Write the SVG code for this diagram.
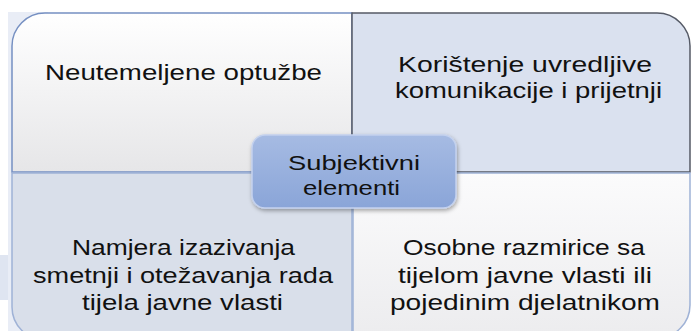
<svg xmlns="http://www.w3.org/2000/svg" width="692" height="331" viewBox="0 0 692 331">
<defs>
<linearGradient id="gWhite" x1="0" y1="0" x2="0" y2="1"><stop offset="0" stop-color="#ffffff"/><stop offset="1" stop-color="#e6e6e8"/></linearGradient>
<linearGradient id="gWhite2" x1="0" y1="0" x2="0" y2="1"><stop offset="0" stop-color="#fbfbfc"/><stop offset="1" stop-color="#ececee"/></linearGradient>
<linearGradient id="gCenter" x1="0" y1="0" x2="0" y2="1"><stop offset="0" stop-color="#a6bbe3"/><stop offset="1" stop-color="#8aa5d8"/></linearGradient>
<filter id="sh" x="-10%" y="-10%" width="120%" height="130%"><feDropShadow dx="1" dy="2" stdDeviation="2" flood-color="#000" flood-opacity="0.35"/></filter>
</defs>
<style>
.t{font-family:"Liberation Sans","Open Sans","DejaVu Sans",sans-serif;font-size:22px;fill:#111;text-anchor:middle}
.c{font-size:21px}
.q{stroke-width:1.5}
</style>
<rect x="0" y="0" width="692" height="331" fill="#ffffff"/>
<rect x="8" y="12" width="40" height="319" fill="#e9edf6"/>
<rect x="0" y="255" width="8" height="45" fill="#dfe5f1"/>
<g id="node-tl">
<path class="q" d="M12,172 V46 A33,33 0 0 1 45,13 H352 V172 Z" fill="url(#gWhite)" stroke="#7690c2"/>
<text class="t" x="183.5" y="80" textLength="277" lengthAdjust="spacingAndGlyphs">Neutemeljene optužbe</text>
</g>
<g id="node-tr">
<path class="q" d="M352,13 H657 A33,33 0 0 1 690,46 V172 H352 Z" fill="#dae1ef" stroke="#555a66"/>
<text class="t" x="525" y="72" textLength="254" lengthAdjust="spacingAndGlyphs">Korištenje uvredljive</text>
<text class="t" x="528.5" y="98" textLength="267" lengthAdjust="spacingAndGlyphs">komunikacije i prijetnji</text>
</g>
<g id="node-bl">
<path class="q" d="M12,173 H352 V340 H45 A33,33 0 0 1 12,307 Z" fill="#d9dfea" stroke="#9fb2d6"/>
<text class="t" x="183.5" y="255" textLength="223" lengthAdjust="spacingAndGlyphs">Namjera izazivanja</text>
<text class="t" x="183" y="283" textLength="300" lengthAdjust="spacingAndGlyphs">smetnji i otežavanja rada</text>
<text class="t" x="182.5" y="310" textLength="201" lengthAdjust="spacingAndGlyphs">tijela javne vlasti</text>
</g>
<g id="node-br">
<path class="q" d="M353,173 H690 V305 A33,33 0 0 1 657,338 H353 Z" fill="url(#gWhite2)" stroke="#9fb2d6"/>
<text class="t" x="524" y="255" textLength="242" lengthAdjust="spacingAndGlyphs">Osobne razmirice sa</text>
<text class="t" x="525" y="283" textLength="254" lengthAdjust="spacingAndGlyphs">tijelom javne vlasti ili</text>
<text class="t" x="525" y="310" textLength="270" lengthAdjust="spacingAndGlyphs">pojedinim djelatnikom</text>
</g>
<g id="connectors"></g>
<g id="node-center">
<rect x="252" y="135" width="204" height="73" rx="13" fill="url(#gCenter)" stroke="#c3d1ee" stroke-width="1.5" filter="url(#sh)"/>
<text class="t c" x="354" y="170" textLength="132" lengthAdjust="spacingAndGlyphs">Subjektivni</text>
<text class="t c" x="351.5" y="195" textLength="97" lengthAdjust="spacingAndGlyphs">elementi</text>
</g>
</svg>
